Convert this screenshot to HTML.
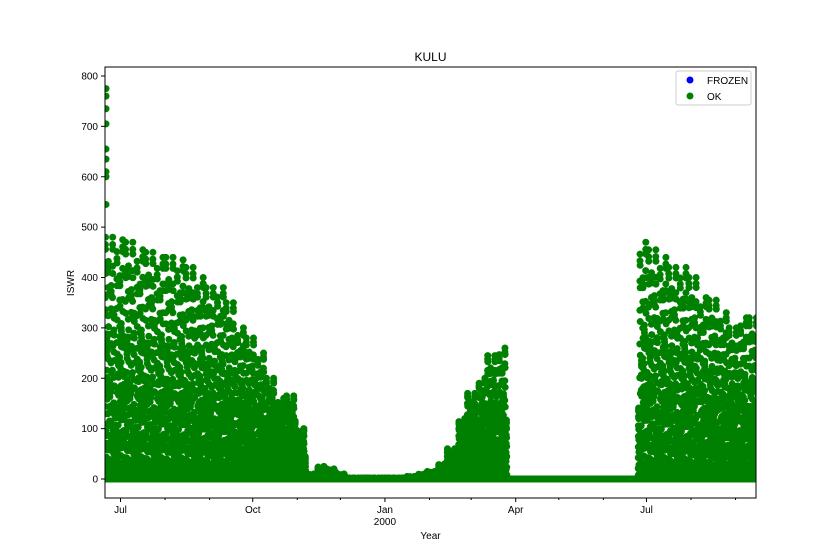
<!DOCTYPE html>
<html><head><meta charset="utf-8"><style>
body{margin:0;background:#fff;}
svg{display:block;font-family:"Liberation Sans",sans-serif;}
</style></head><body>
<svg id="chart" width="840" height="560" viewBox="0 0 840 560" xmlns="http://www.w3.org/2000/svg">
<defs><clipPath id="plotclip"><rect x="105" y="67" width="651" height="431"/></clipPath></defs>
<text x="430.5" y="61" font-size="12" text-anchor="middle">KULU</text>
<g id="points" clip-path="url(#plotclip)"></g>
<rect x="105" y="67" width="651" height="431" fill="none" stroke="#000" stroke-width="1"/>
<g id="yaxis"></g>
<g id="xaxis"></g>
<text x="74" y="283" font-size="10" text-anchor="middle" transform="rotate(-90 74 283)">ISWR</text>
<text x="430.5" y="539" font-size="10" text-anchor="middle">Year</text>
<g>
<rect x="676" y="71" width="75" height="34" rx="2" fill="#fff" stroke="#ccc"/>
<circle cx="690" cy="80" r="3.5" fill="#0000ff"/>
<text x="707" y="84" font-size="10">FROZEN</text>
<circle cx="690" cy="96" r="3.5" fill="#008000"/>
<text x="707" y="100" font-size="10">OK</text>
</g>
</svg>
<script>
// weekly peak ISWR, weeks starting 1999-06-21
const weeklyPeaks = [480,475,470,455,450,440,440,435,420,400,380,380,350,300,280,250,200,160,165,100,
10,25,20,10,2,2,2,2,2,2,5,10,15,30,60,120,170,200,245,260,0,
0,0,0,0,0,0,0,0,0,0,0,0,
470,455,440,420,420,400,360,355,330,300,320,320];
// per-hour fraction of daily peak
const diurnalShape = [0,0,0,0,0,0.05,0.15,0.3,0.45,0.6,0.75,0.88,0.97,1,0.95,0.85,0.7,0.55,0.38,0.2,0.07,0,0,0];
// day-to-day cloudiness factors (cycled)
const cloudFactors = [1,0.6,0.9,0.4,0.8,1,0.7,0.3,0.95,0.5,0.85,0.65,1,0.45];
// start-of-record outliers (1999-06-21)
const outlierValues = [775,760,735,705,655,635,610,600,545];
const yTicks = [0,100,200,300,400,500,600,700,800];
const majorMonths = [["Jul","1999-07-01"],["Oct","1999-10-01"],["Jan","2000-01-01"],["Apr","2000-04-01"],["Jul","2000-07-01"]];
const minorMonths = ["1999-08-01","1999-09-01","1999-11-01","1999-12-01","2000-02-01","2000-03-01","2000-05-01","2000-06-01","2000-08-01","2000-09-01"];

const NS="http://www.w3.org/2000/svg";
const t0=Date.UTC(1999,5,21), DAY=86400000;
const xOfDays=d=>105+(d+0.8)*1.437;
const xOfDate=s=>xOfDays((Date.parse(s+"T00:00:00Z")-t0)/DAY);
const yOf=v=>479-v*0.50375;
function mk(tag,attrs,parent){const e=document.createElementNS(NS,tag);for(const k in attrs)e.setAttribute(k,attrs[k]);parent.appendChild(e);return e;}

const pts=document.getElementById('points');
const totalDays=weeklyPeaks.length*7;
for(let d=0;d<totalDays;d++){
  const peak=weeklyPeaks[Math.floor(d/7)];
  const cf=cloudFactors[d%cloudFactors.length];
  for(let h=0;h<24;h++){
    const v=peak*diurnalShape[h]*cf;
    const c=mk('circle',{cx:xOfDays(d+h/24-1).toFixed(2),cy:yOf(v).toFixed(2),r:3.5,fill:'#008000'},pts);
    
    
  }
}
outlierValues.forEach(v=>{
  const c=mk('circle',{cx:106,cy:yOf(v).toFixed(2),r:3.5,fill:'#008000'},pts);
  
  
});

const ya=document.getElementById('yaxis');
yTicks.forEach(v=>{
  const y=yOf(v);
  const l=mk('line',{x1:101,x2:105,y1:y,y2:y,stroke:'#000'},ya);
  
  
  const t=mk('text',{x:98,y:y+3.5,'font-size':10,'text-anchor':'end'},ya);
  
  
  t.textContent=v;
});
const xa=document.getElementById('xaxis');
majorMonths.forEach(([lab,ds])=>{
  const x=xOfDate(ds);
  const l=mk('line',{x1:x,x2:x,y1:498,y2:502,stroke:'#000'},xa);
  
  
  const t=mk('text',{x:x,y:513,'font-size':10,'text-anchor':'middle'},xa);
  
  
  t.textContent=lab;
  if(ds==="2000-01-01"){
    const t2=mk('text',{x:x,y:525,'font-size':10,'text-anchor':'middle'},xa);
    
    
    t2.textContent="2000";
  }
});
minorMonths.forEach(ds=>{
  const x=xOfDate(ds);
  const l=mk('line',{x1:x,x2:x,y1:498,y2:500,stroke:'#000'},xa);
  
  
});
</script>
</body></html>
